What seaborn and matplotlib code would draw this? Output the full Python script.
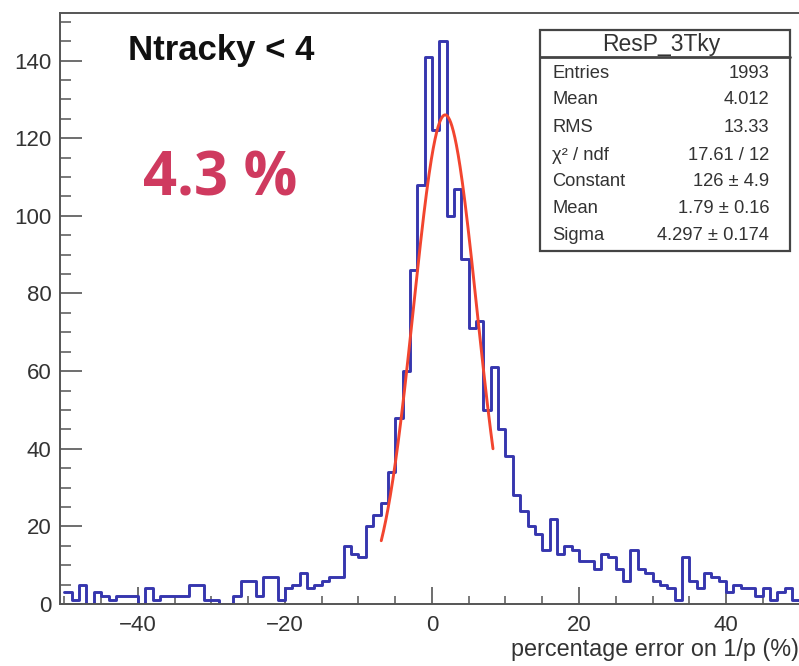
import numpy as np
import pandas as pd
import seaborn as sns
import matplotlib
matplotlib.use("Agg")
import matplotlib.pyplot as plt
from matplotlib.patches import Rectangle
from matplotlib.lines import Line2D
from matplotlib.ticker import MultipleLocator

# ---- histogram contents: 1%-wide bins from -50 to 50 ----
bin_low = list(range(-50, 50))
counts = [
    3, 1, 5, 0, 3, 2, 1, 2, 2, 2,          # -50 .. -41
    0, 4, 1, 2, 2, 2, 2, 5, 5, 1,          # -40 .. -31
    1, 0, 0, 2, 6, 6, 2, 7, 7, 1,          # -30 .. -21
    4, 5, 8, 4, 5, 6, 7, 7, 15, 13,        # -20 .. -11
    12, 20, 23, 26, 34, 48, 60, 86, 108, 141,   # -10 .. -1
    122, 145, 100, 107, 89, 71, 73, 50, 61, 45, # 0 .. 9
    38, 28, 24, 20, 18, 14, 22, 13, 15, 14,     # 10 .. 19
    11, 11, 9, 13, 12, 9, 6, 14, 9, 8,          # 20 .. 29
    6, 5, 4, 1, 12, 6, 4, 8, 7, 6,              # 30 .. 39
    3, 5, 4, 4, 2, 4, 1, 3, 4, 1,               # 40 .. 49
]

# ---- gaussian fit result ----
fit_constant = 126.0
fit_mean = 1.79
fit_sigma = 4.297
fit_range = (-6.9, 8.3)

# ---- statistics box ----
stats_title = "ResP_3Tky"
stats_labels = ["Entries", "Mean", "RMS", "χ² / ndf", "Constant", "Mean", "Sigma"]
stats_values = ["1993", "4.012", "13.33", "17.61 / 12", "126 ± 4.9",
                "1.79 ± 0.16", "4.297 ± 0.174"]

x_ticks = [-40, -20, 0, 20, 40]
y_ticks = [0, 20, 40, 60, 80, 100, 120, 140]
x_title = "percentage error on 1/p (%)"
cut_label = "Ntracky < 4"
resolution_label = "4.3 %"

sns.set_theme(style="white")
plt.rcParams["font.family"] = ["Liberation Sans", "DejaVu Sans"]

W, H = 799, 666
fig = plt.figure(figsize=(W / 100, H / 100), dpi=100)
fig.patch.set_facecolor("white")


def fx(px):
    return px / W


def fy(py):
    return 1 - py / H


ax = fig.add_axes([fx(60), fy(604), (801 - 60) / W, (604 - 13) / H])
ax.set_facecolor("white")

df = pd.DataFrame({"x": np.array(bin_low) + 0.5, "n": counts})
sns.histplot(data=df, x="x", weights="n", binwidth=1,
             binrange=(bin_low[0], bin_low[-1] + 1), element="step",
             fill=False, color="#3636ae", linewidth=2.1, ax=ax)

xs = np.linspace(fit_range[0], fit_range[1], 300)
ys = fit_constant * np.exp(-0.5 * ((xs - fit_mean) / fit_sigma) ** 2)
sns.lineplot(x=xs, y=ys, color="#f2452f", linewidth=2.1, ax=ax, zorder=4)

ax.set_xlim(-50.6, 50.2)
ax.set_ylim(0, 1.05 * max(counts))
ax.set_xlabel("")
ax.set_ylabel("")
ax.set_xticks(x_ticks)
ax.set_yticks(y_ticks)
ax.xaxis.set_minor_locator(MultipleLocator(5))
ax.yaxis.set_minor_locator(MultipleLocator(5))

frame_color = "#555555"
ax.tick_params(axis="y", which="major", direction="in", length=16, width=1.2,
               color=frame_color, labelsize=16, labelcolor="#333333", pad=6,
               left=True, right=False)
ax.tick_params(axis="y", which="minor", direction="in", length=8, width=1.1,
               color=frame_color, left=True, right=False)
ax.tick_params(axis="x", which="major", direction="in", length=12, width=1.2,
               color=frame_color, labelsize=16, labelcolor="#333333", pad=8,
               bottom=True, top=False)
ax.tick_params(axis="x", which="minor", direction="in", length=6, width=1.1,
               color=frame_color, bottom=True, top=False)
for side, spine in ax.spines.items():
    spine.set_color(frame_color)
    spine.set_linewidth(1.4)
    spine.set_visible(True)

fig.text(fx(799), fy(656), x_title, ha="right", va="baseline",
         fontsize=16.8, color="#333333")

fig.text(fx(128), fy(60), cut_label, ha="left", va="baseline",
         fontsize=25, fontweight="bold", color="#111111")
fig.text(fx(143), fy(195), resolution_label, ha="left", va="baseline",
         fontsize=43, fontweight="bold", color="#cf3a5f",
         family=["Open Sans", "DejaVu Sans"])

# statistics box
bx0, by0, bx1, by1 = 540, 30, 790, 251
fig.add_artist(Rectangle((fx(bx0), fy(by1)), (bx1 - bx0) / W, (by1 - by0) / H,
                         transform=fig.transFigure, facecolor="white",
                         edgecolor="#444444", linewidth=1.6, zorder=5))
fig.add_artist(Line2D([fx(bx0), fx(bx1)], [fy(57), fy(57)],
                      transform=fig.transFigure, color="#444444",
                      linewidth=2.0, zorder=6))
fig.text(fx(661), fy(44), stats_title, ha="center", va="center",
         fontsize=16.5, color="#333333", zorder=7)
row_y = [73, 100, 127, 155, 182, 208, 236]
for yy, lab, val in zip(row_y, stats_labels, stats_values):
    fig.text(fx(552), fy(yy), lab, ha="left", va="center",
             fontsize=13.2, color="#333333", zorder=7)
    fig.text(fx(769), fy(yy), val, ha="right", va="center",
             fontsize=13.2, color="#333333", zorder=7)

fig.savefig("out.png", dpi=100, facecolor="white")
